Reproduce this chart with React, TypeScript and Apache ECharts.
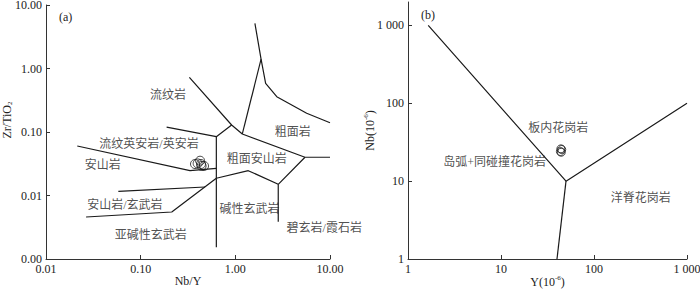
import React, { useEffect, useRef } from "react";
import * as echarts from "echarts";

// ---- Panel (a): Zr/TiO2 vs Nb/Y ----
const aXTicks = [0.01, 0.1, 1, 10];
const aYTicks = [0.001, 0.01, 0.1, 1, 10];
const aRhyoliteLine = [[0.327, 0.726], [0.914, 0.129], [1.185, 0.0931], [5.44, 0.04], [10, 0.04]];
const aTrachyteUpper = [[1.61, 5.15], [1.87, 1.4], [2.09, 0.585], [2.74, 0.36], [5.67, 0.197], [10, 0.14]];
const aTrachyteLeft = [[1.87, 1.4], [1.185, 0.0931]];
const aRhyodaciteLine = [[0.188, 0.119], [0.63, 0.0843], [0.914, 0.129]];
const aVerticalLine = [[0.63, 0.0843], [0.63, 0.00153]];
const aAndesiteLine = [[0.0214, 0.0602], [0.332, 0.0246], [0.63, 0.0268]];
const aAlkaliLine = [[0.63, 0.0187], [1.37, 0.0246], [2.84, 0.015], [5.44, 0.04]];
const aFoiditeLine = [[2.84, 0.015], [2.84, 0.00387]];
const aSubalkalineLine = [[0.0265, 0.00459], [0.213, 0.0055], [0.63, 0.0187]];
const aAndesiteBasaltLine = [[0.0581, 0.01165], [0.479, 0.0136]];
const aSampleNbY = [0.375, 0.424, 0.434, 0.467, 0.44, 0.4];
const aSampleZrTi = [0.0313, 0.0353, 0.0313, 0.0292, 0.0292, 0.032];
const aFieldNames = ["流纹岩", "粗面岩", "流纹英安岩/英安岩", "安山岩", "粗面安山岩", "安山岩/玄武岩", "碱性玄武岩", "亚碱性玄武岩", "碧玄岩/霞石岩"];
const aFieldX = [0.195, 4.03, 0.1225, 0.0397, 1.68, 0.0682, 1.41, 0.128, 8.7];
const aFieldY = [0.383, 0.099, 0.0647, 0.0302, 0.0372, 0.00708, 0.00607, 0.00239, 0.0031];

// ---- Panel (b): Nb vs Y ----
const bXTicks = [1, 10, 100, 1000];
const bYTicks = [1, 10, 100, 1000];
const bUpperLine = [[1.65, 1000], [50, 10], [1000, 100]];
const bLowerLine = [[50, 10], [40, 1]];
const bSampleY = [43.5, 45, 44, 44.5];
const bSampleNb = [24, 25.5, 26, 23.5];
const bFieldNames = ["板内花岗岩", "岛弧+同碰撞花岗岩", "洋脊花岗岩"];
const bFieldX = [41.3, 8.55, 318];
const bFieldY = [48.8, 17.7, 6.0];

const FONT = "'Liberation Serif', 'Noto Sans CJK SC', serif";
const INK = "#1a1a1a";

export default function App() {
  const ref = useRef<HTMLDivElement>(null);
  useEffect(() => {
    if (!ref.current) return;
    const chart = echarts.init(ref.current, undefined, { renderer: "svg" });

    const axisCommon = {
      type: "log",
      logBase: 10,
      nameMoveOverlap: false,
      axisLine: { show: true, lineStyle: { color: "#333", width: 1 } },
      axisTick: { show: true, inside: true, length: 4, lineStyle: { color: "#333" } },
      splitLine: { show: false },
      nameTextStyle: { fontFamily: FONT, fontSize: 12, color: "#222" },
    };
    const lineSeries = (data: number[][], idx: number) => ({
      type: "line",
      xAxisIndex: idx,
      yAxisIndex: idx,
      data,
      symbol: "none",
      silent: true,
      lineStyle: { color: INK, width: 1.2 },
      z: 2,
    });
    const labelSeries = (names: string[], xs: number[], ys: number[], idx: number) => ({
      type: "scatter",
      xAxisIndex: idx,
      yAxisIndex: idx,
      symbolSize: 0,
      silent: true,
      clip: false,
      data: names.map((n, i) => ({ name: n, value: [xs[i], ys[i]] })),
      label: {
        show: true,
        position: "inside",
        formatter: "{b}",
        fontFamily: FONT,
        fontSize: 12,
        color: "#222",
      },
      z: 3,
    });
    const fix2 = (v: number) => {
      const e = Math.round(Math.log10(v));
      return Math.pow(10, e).toFixed(2);
    };
    const intFmt = (v: number) => {
      const r = Math.round(v);
      return r >= 1000 ? String(r).replace(/\B(?=(\d{3})+(?!\d))/g, " ") : String(r);
    };
    const supRich = { sup: { fontFamily: FONT, fontSize: 7, lineHeight: 6, verticalAlign: "top", color: "#222" } };

    chart.setOption({
      animation: false,
      backgroundColor: "#ffffff",
      grid: [
        { left: 46, top: 5, width: 284, height: 254, outerBoundsMode: "none", containLabel: false },
        { left: 408, top: 2, width: 279, height: 257, outerBoundsMode: "none", containLabel: false },
      ],
      xAxis: [
        {
          ...axisCommon,
          gridIndex: 0,
          min: 0.01,
          max: 10,
          name: "Nb/Y",
          nameLocation: "middle",
          nameGap: 16,
          axisTick: { ...axisCommon.axisTick, customValues: aXTicks },
          axisLabel: { customValues: aXTicks, formatter: fix2, fontFamily: FONT, fontSize: 12, color: "#222", margin: 4 },
        },
        {
          ...axisCommon,
          gridIndex: 1,
          min: 1,
          max: 1000,
          name: "Y(10{sup|-6})",
          nameLocation: "middle",
          nameGap: 15,
          nameTextStyle: {
            fontFamily: FONT, fontSize: 12, color: "#222", lineHeight: 16, verticalAlign: "top",
            rich: supRich,
          },
          axisTick: { ...axisCommon.axisTick, customValues: bXTicks },
          axisLabel: { customValues: bXTicks, formatter: intFmt, fontFamily: FONT, fontSize: 12, color: "#222", margin: 4 },
        },
      ],
      yAxis: [
        {
          ...axisCommon,
          gridIndex: 0,
          min: 0.001,
          max: 10,
          name: "Zr/TiO{sub|2}",
          nameLocation: "middle",
          nameGap: 33,
          nameTextStyle: {
            fontFamily: FONT, fontSize: 12, color: "#222", lineHeight: 12, verticalAlign: "bottom",
            padding: [0, 0, 0, 24],
            rich: { sub: { fontFamily: FONT, fontSize: 7, lineHeight: 6, verticalAlign: "bottom", color: "#222" } },
          },
          axisTick: { ...axisCommon.axisTick, customValues: aYTicks },
          axisLabel: { customValues: aYTicks, formatter: fix2, fontFamily: FONT, fontSize: 12, color: "#222", margin: 4 },
        },
        {
          ...axisCommon,
          gridIndex: 1,
          min: 1,
          max: 2000,
          name: "Nb(10{sup|-6})",
          nameLocation: "middle",
          nameGap: 30,
          nameTextStyle: {
            fontFamily: FONT, fontSize: 12, color: "#222", lineHeight: 16, verticalAlign: "bottom",
            rich: supRich,
          },
          axisTick: { ...axisCommon.axisTick, customValues: bYTicks },
          axisLabel: { customValues: bYTicks, formatter: intFmt, fontFamily: FONT, fontSize: 12, color: "#222", margin: 4 },
        },
      ],
      graphic: [
        { type: "text", left: 59, top: 11, style: { text: "(a)", fontFamily: FONT, fontSize: 12, fill: "#222" } },
        { type: "text", left: 421, top: 9, style: { text: "(b)", fontFamily: FONT, fontSize: 12, fill: "#222" } },
      ],
      series: [
        lineSeries(aRhyoliteLine, 0),
        lineSeries(aTrachyteUpper, 0),
        lineSeries(aTrachyteLeft, 0),
        lineSeries(aRhyodaciteLine, 0),
        lineSeries(aVerticalLine, 0),
        lineSeries(aAndesiteLine, 0),
        lineSeries(aAlkaliLine, 0),
        lineSeries(aFoiditeLine, 0),
        lineSeries(aSubalkalineLine, 0),
        lineSeries(aAndesiteBasaltLine, 0),
        lineSeries(bUpperLine, 1),
        lineSeries(bLowerLine, 1),
        {
          type: "scatter",
          xAxisIndex: 0,
          yAxisIndex: 0,
          symbol: "circle",
          symbolSize: 9,
          data: aSampleNbY.map((x, i) => [x, aSampleZrTi[i]]),
          itemStyle: { color: "rgba(255,255,255,0)", borderColor: INK, borderWidth: 1 },
          z: 4,
        },
        {
          type: "scatter",
          xAxisIndex: 1,
          yAxisIndex: 1,
          symbol: "circle",
          symbolSize: 8,
          data: bSampleY.map((x, i) => [x, bSampleNb[i]]),
          itemStyle: { color: "rgba(255,255,255,0)", borderColor: INK, borderWidth: 1 },
          z: 4,
        },
        labelSeries(aFieldNames, aFieldX, aFieldY, 0),
        labelSeries(bFieldNames, bFieldX, bFieldY, 1),
      ],
    });
    return () => chart.dispose();
  }, []);
  return (
    <div
      ref={ref}
      style={{ position: "fixed", left: 0, top: 0, width: 700, height: 289, background: "#fff" }}
    />
  );
}
